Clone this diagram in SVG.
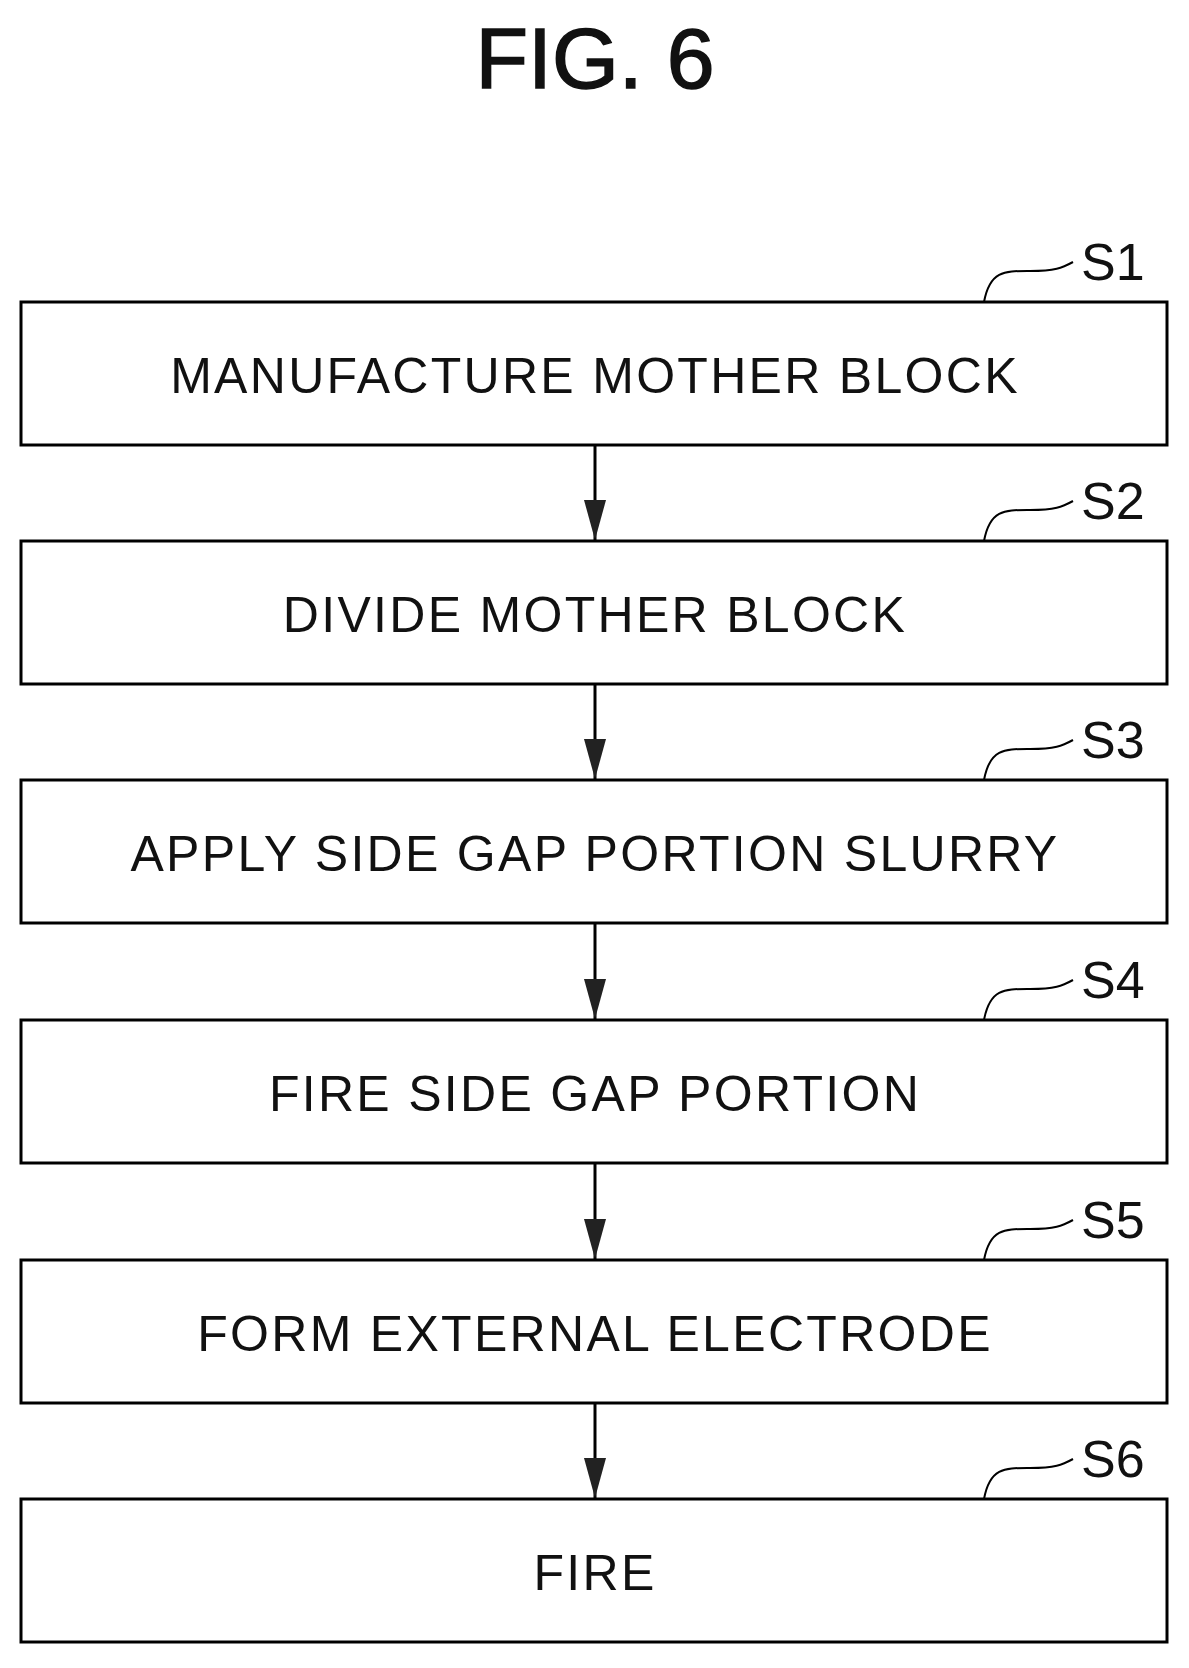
<svg xmlns="http://www.w3.org/2000/svg" width="1189" height="1668" viewBox="0 0 1189 1668">
<style>
.b{fill:#fff;stroke:#000;stroke-width:3}
.t{font-family:"Liberation Sans",Arial,sans-serif;font-size:50px;text-anchor:middle;fill:#111;letter-spacing:2.3px}
.s{font-family:"Liberation Sans",Arial,sans-serif;font-size:52px;fill:#111}
.l{fill:none;stroke:#000;stroke-width:2}
.c{stroke:#000;stroke-width:3;fill:none}
</style>
<defs>
<marker id="h" viewBox="0 0 40 22" refX="40" refY="11" markerWidth="40" markerHeight="22" markerUnits="userSpaceOnUse" orient="auto"><path d="M0,0L40,11L0,22z" fill="#222"/></marker>
</defs>
<text x="595" y="88" font-family="Liberation Sans,Arial,sans-serif" font-size="86" text-anchor="middle" fill="#111" stroke="#111" stroke-width="1.5">FIG. 6</text>
<g id="connectors">
<line class="c" x1="595" y1="445" x2="595" y2="540" marker-end="url(#h)"/>
<line class="c" x1="595" y1="684" x2="595" y2="779" marker-end="url(#h)"/>
<line class="c" x1="595" y1="923" x2="595" y2="1019" marker-end="url(#h)"/>
<line class="c" x1="595" y1="1163" x2="595" y2="1259" marker-end="url(#h)"/>
<line class="c" x1="595" y1="1403" x2="595" y2="1498" marker-end="url(#h)"/>
</g>
<g id="S1"><rect class="b" x="21" y="302" width="1146" height="143"/><text class="t" x="595" y="393">MANUFACTURE MOTHER BLOCK</text><path class="l" d="M984,302C990,270 1005,271 1030,271C1055,271 1062,268 1073,262"/><text class="s" x="1081" y="280">S1</text></g>
<g id="S2"><rect class="b" x="21" y="541" width="1146" height="143"/><text class="t" x="595" y="632">DIVIDE MOTHER BLOCK</text><path class="l" d="M984,541C990,509 1005,510 1030,510C1055,510 1062,507 1073,501"/><text class="s" x="1081" y="519">S2</text></g>
<g id="S3"><rect class="b" x="21" y="780" width="1146" height="143"/><text class="t" x="595" y="871">APPLY SIDE GAP PORTION SLURRY</text><path class="l" d="M984,780C990,748 1005,749 1030,749C1055,749 1062,746 1073,740"/><text class="s" x="1081" y="758">S3</text></g>
<g id="S4"><rect class="b" x="21" y="1020" width="1146" height="143"/><text class="t" x="595" y="1111">FIRE SIDE GAP PORTION</text><path class="l" d="M984,1020C990,988 1005,989 1030,989C1055,989 1062,986 1073,980"/><text class="s" x="1081" y="998">S4</text></g>
<g id="S5"><rect class="b" x="21" y="1260" width="1146" height="143"/><text class="t" x="595" y="1351">FORM EXTERNAL ELECTRODE</text><path class="l" d="M984,1260C990,1228 1005,1229 1030,1229C1055,1229 1062,1226 1073,1220"/><text class="s" x="1081" y="1238">S5</text></g>
<g id="S6"><rect class="b" x="21" y="1499" width="1146" height="143"/><text class="t" x="595" y="1590">FIRE</text><path class="l" d="M984,1499C990,1467 1005,1468 1030,1468C1055,1468 1062,1465 1073,1459"/><text class="s" x="1081" y="1477">S6</text></g>
</svg>
